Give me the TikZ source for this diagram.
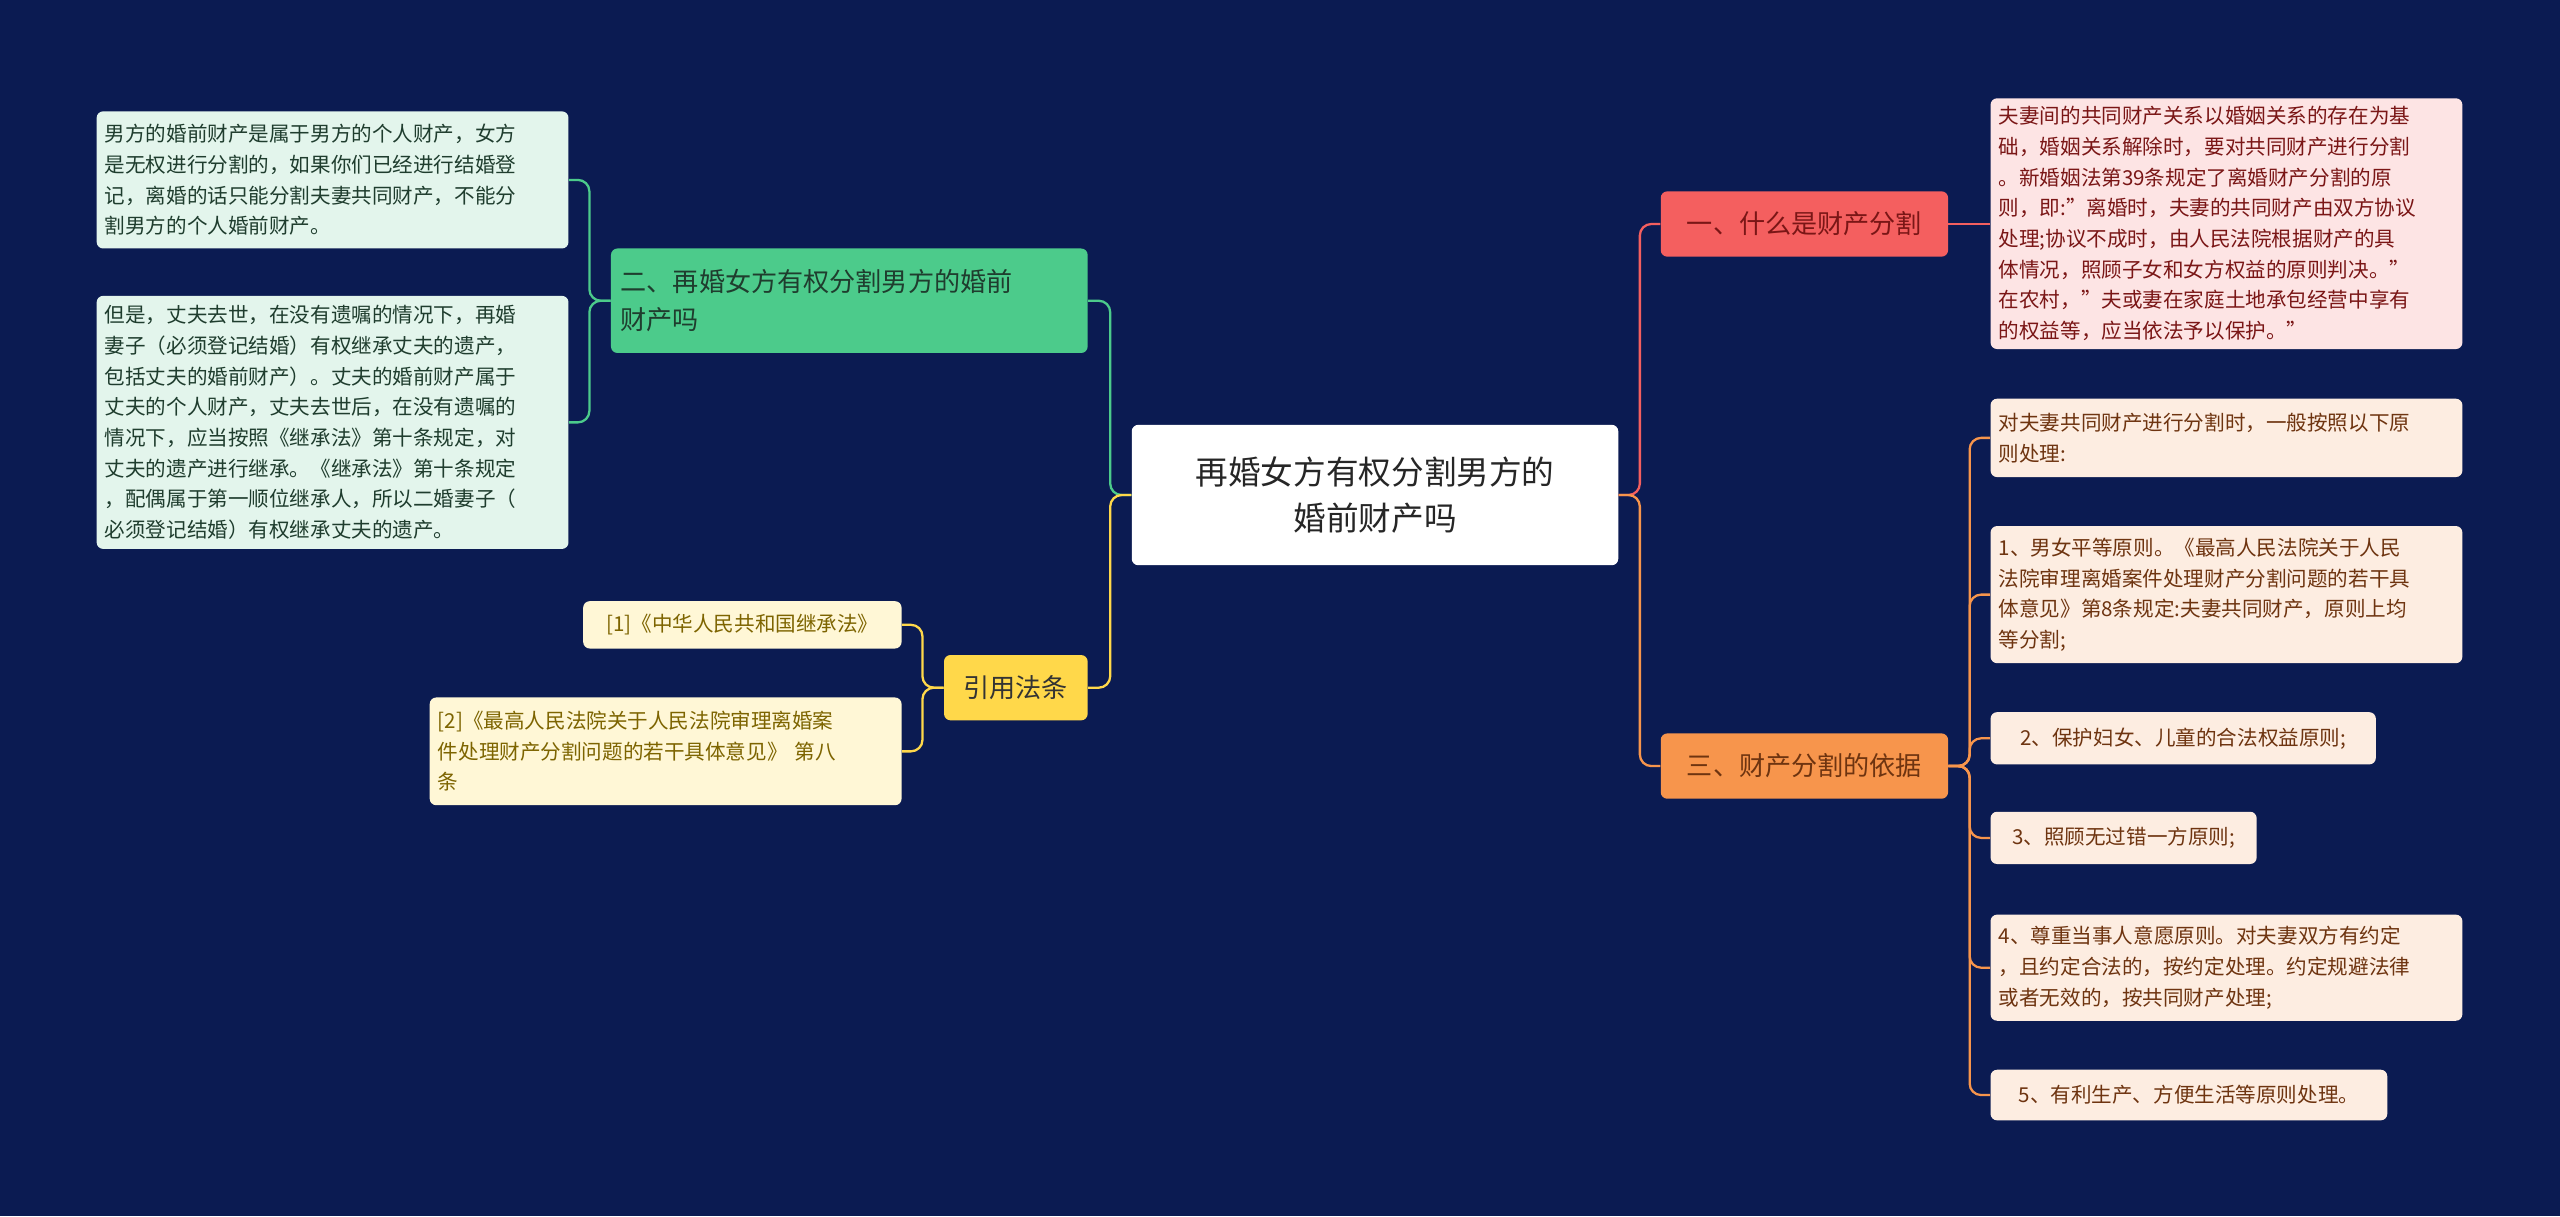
\documentclass[tikz,border=0pt]{standalone}
\usepackage{fontspec}
\setmainfont{Noto Sans CJK SC}
\begin{document}
\begin{tikzpicture}[x=1pt,y=-1pt,
 box/.style={anchor=north west,rounded corners=4pt,inner sep=5pt,align=left,font=\fontsize{12.6}{18.8}\selectfont},
 br/.style={anchor=north west,rounded corners=4pt,inner sep=6pt,font=\fontsize{16}{23}\selectfont},
 ln/.style={line width=1.4pt,rounded corners=7pt}]
\definecolor{bg}{HTML}{0B1B52}
\definecolor{redb}{HTML}{F45F5F}\definecolor{redl}{HTML}{FDE4E4}\definecolor{redt}{HTML}{7A1616}
\definecolor{orb}{HTML}{F7954C}\definecolor{orl}{HTML}{FDEDE1}\definecolor{ort}{HTML}{6E3410}
\definecolor{grb}{HTML}{4CCB8B}\definecolor{grl}{HTML}{E3F5EC}\definecolor{grt}{HTML}{1F3D2E}
\definecolor{yeb}{HTML}{FFD84A}\definecolor{yel}{HTML}{FFF7D6}\definecolor{yet}{HTML}{7D6400}
\fill[bg] (0,0) rectangle (1568,745);
\useasboundingbox (0,0) rectangle (1568,745);
% center
\node[anchor=north west,fill=white,rounded corners=4pt,minimum width=298pt,minimum height=86pt,align=center,font=\fontsize{20}{28}\selectfont,text=black!85] (c) at (693,260) {再婚女方有权分割男方的\\婚前财产吗};
% right branches
\node[br,fill=redb,text=redt,minimum width=176pt,minimum height=40pt] (b1) at (1017,117) {一、什么是财产分割};
\node[br,fill=orb,text=ort,minimum width=176pt,minimum height=40pt] (b3) at (1017,449) {三、财产分割的依据};
\node[box,fill=redl,text=redt,text width=279pt,minimum height=153pt] (r1) at (1219,60) {夫妻间的共同财产关系以婚姻关系的存在为基\\础，婚姻关系解除时，要对共同财产进行分割\\。新婚姻法第39条规定了离婚财产分割的原\\则，即:"离婚时，夫妻的共同财产由双方协议\\处理;协议不成时，由人民法院根据财产的具\\体情况，照顾子女和女方权益的原则判决。"\\在农村，"夫或妻在家庭土地承包经营中享有\\的权益等，应当依法予以保护。"};
\node[box,fill=orl,text=ort,text width=279pt,minimum height=48pt] (o1) at (1219,244) {对夫妻共同财产进行分割时，一般按照以下原\\则处理:};
\node[box,fill=orl,text=ort,text width=279pt,minimum height=84pt] (o2) at (1219,322) {1、男女平等原则。《最高人民法院关于人民\\法院审理离婚案件处理财产分割问题的若干具\\体意见》第8条规定:夫妻共同财产，原则上均\\等分割;};
\node[box,fill=orl,text=ort,minimum width=236pt,minimum height=32pt] (o3) at (1219,436) {2、保护妇女、儿童的合法权益原则;};
\node[box,fill=orl,text=ort,minimum width=163pt,minimum height=32pt] (o4) at (1219,497) {3、照顾无过错一方原则;};
\node[box,fill=orl,text=ort,text width=279pt,minimum height=65pt] (o5) at (1219,560) {4、尊重当事人意愿原则。对夫妻双方有约定\\，且约定合法的，按约定处理。约定规避法律\\或者无效的，按共同财产处理;};
\node[box,fill=orl,text=ort,minimum width=243pt,minimum height=31pt] (o6) at (1219,655) {5、有利生产、方便生活等原则处理。};
% left branches
\node[br,fill=grb,text=grt,text width=280pt,minimum height=64pt,align=left] (b2) at (374,152) {二、再婚女方有权分割男方的婚前\\财产吗};
\node[br,fill=yeb,text=black!80,minimum width=88pt,minimum height=40pt] (b4) at (578,401) {引用法条};
\node[box,fill=grl,text=grt,text width=279pt,minimum height=84pt] (g1) at (59,68) {男方的婚前财产是属于男方的个人财产，女方\\是无权进行分割的，如果你们已经进行结婚登\\记，离婚的话只能分割夫妻共同财产，不能分\\割男方的个人婚前财产。};
\node[box,fill=grl,text=grt,text width=279pt,minimum height=155pt] (g2) at (59,181) {但是，丈夫去世，在没有遗嘱的情况下，再婚\\妻子（必须登记结婚）有权继承丈夫的遗产，\\包括丈夫的婚前财产）。丈夫的婚前财产属于\\丈夫的个人财产，丈夫去世后，在没有遗嘱的\\情况下，应当按照《继承法》第十条规定，对\\丈夫的遗产进行继承。《继承法》第十条规定\\，配偶属于第一顺位继承人，所以二婚妻子（\\必须登记结婚）有权继承丈夫的遗产。};
\node[box,fill=yel,text=yet,minimum width=195pt,minimum height=29pt] (y1) at (357,368) {[1]《中华人民共和国继承法》};
\node[box,fill=yel,text=yet,text width=279pt,minimum height=66pt] (y2) at (263,427) {[2]《最高人民法院关于人民法院审理离婚案\\件处理财产分割问题的若干具体意见》 第八\\条};
% connectors
\draw[ln,redb] (c.east) -- ++(13,0) |- (b1.west);
\draw[ln,orb] (c.east) -- ++(13,0) |- (b3.west);
\draw[ln,redb] (b1.east) -- (b1.east -| r1.west);
\foreach \n in {o1,o2,o3,o4,o5,o6} \draw[ln,orb] (b3.east) -- ++(13,0) |- (\n.west);
\draw[ln,grb] (c.west) -- ++(-13,0) |- (b2.east);
\draw[ln,yeb] (c.west) -- ++(-13,0) |- (b4.east);
\foreach \n in {g1,g2} \draw[ln,grb] (b2.west) -- ++(-13,0) |- (\n.east);
\foreach \n in {y1,y2} \draw[ln,yeb] (b4.west) -- ++(-13,0) |- (\n.east);
\end{tikzpicture}
\end{document}
